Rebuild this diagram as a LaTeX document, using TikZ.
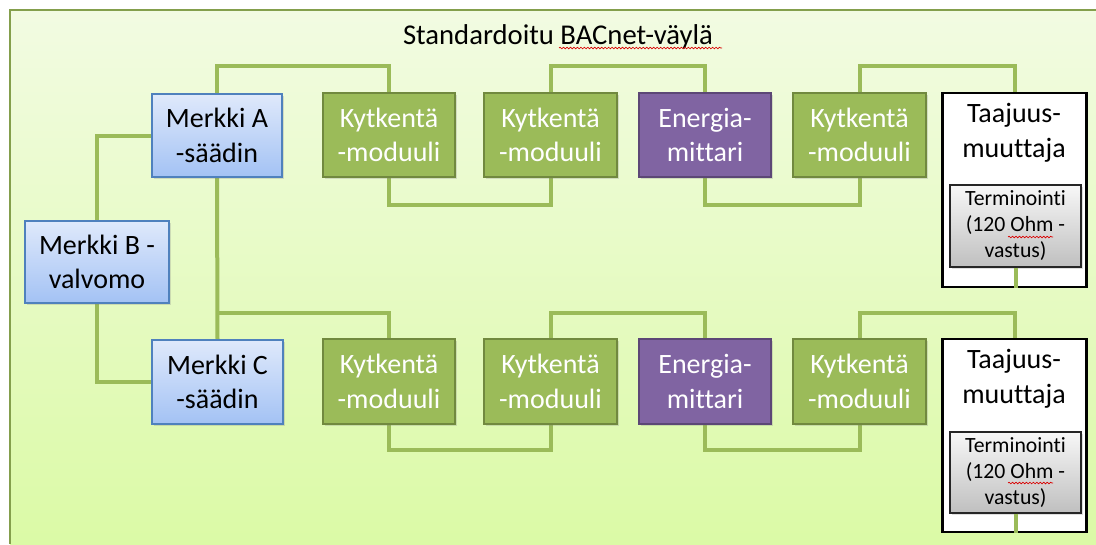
\documentclass[tikz,border=0pt]{standalone}
\usepackage{fontspec}
\setmainfont{Carlito}[Ligatures=NoCommon]
\usetikzlibrary{decorations.pathmorphing,shadows}
\pgfdeclarelayer{backdrop}
\pgfdeclarelayer{wires}
\pgfsetlayers{backdrop,wires,main}
\definecolor{busgreen}{HTML}{9BBB59}
\definecolor{busgreendark}{HTML}{71893F}
\definecolor{meterpurple}{HTML}{8064A2}
\definecolor{meterpurpledark}{HTML}{5C4776}
\definecolor{ctrlblue}{HTML}{4F81BD}
\definecolor{ctrltop}{HTML}{DFE9FB}
\definecolor{ctrlbottom}{HTML}{A3C2F4}
\definecolor{bgtop}{HTML}{F2FBE2}
\definecolor{bgbottom}{HTML}{DBFAA6}
\tikzset{
  x=0.75pt, y=-0.75pt,
  wh/.style 2 args={minimum width={#1*0.75pt}, minimum height={#2*0.75pt}},
  basebox/.style={rectangle, inner sep=0pt, align=center, font=\fontsize{21}{26}\selectfont,
    drop shadow={shadow xshift=1.2pt, shadow yshift=-1.2pt, opacity=0.25}},
  modbox/.style={basebox, fill=busgreen, draw=busgreendark, line width=1.6pt, text=white},
  meterbox/.style={basebox, fill=meterpurple, draw=meterpurpledark, line width=1.6pt, text=white},
  ctrlbox/.style={basebox, top color=ctrltop, bottom color=ctrlbottom,
    draw=ctrlblue, line width=0.9pt, text=black},
  drivebox/.style={rectangle, inner sep=0pt, fill=white, draw=black, line width=2.2pt},
  drivetext/.style={align=center, font=\fontsize{21}{26}\selectfont},
  termbox/.style={basebox, top color=gray!6, bottom color=gray!50, draw=black!85,
    line width=1.1pt, font=\fontsize{16.3}{19.5}\selectfont},
  bus/.style={draw=busgreen, line width=3pt, line join=miter},
  spell/.style={draw=red!85!black, line width=0.5pt,
    decorate, decoration={snake, amplitude=0.6pt, segment length=2.6pt}}
}
\begin{document}
\begin{tikzpicture}
% page and green backdrop
\useasboundingbox (0,0) rectangle (1096,544);
\begin{pgfonlayer}{backdrop}
\fill[white] (0,0) rectangle (1096,544);
\shade[top color=bgtop, bottom color=bgbottom] (10,10) rectangle (1096,544);
\draw[busgreen!85!black, line width=1.4pt] (10,544) -- (10,10) -- (1096,10);
\end{pgfonlayer}

% heights of the horizontal bus runs
\coordinate (toprun) at (0,66);
\coordinate (midrun) at (0,205);
\coordinate (lowtop) at (0,313);
\coordinate (lowbot) at (0,450);

% title
\node[font=\fontsize{21.5}{26}\selectfont, anchor=base] (title) at (558,44) {Standardoitu BACnet-väylä};

% nodes, top row
\node[ctrlbox, wh={130}{83}] (mA) at (217,135.5) {Merkki A\\-säädin};
\node[modbox, wh={132}{84}] (k1) at (389,135) {Kytkentä\\-moduuli};
\node[modbox, wh={133}{84}] (k2) at (550.5,135) {Kytkentä\\-moduuli};
\node[meterbox, wh={132}{84}] (e1) at (705,135) {Energia-\\mittari};
\node[modbox, wh={133}{84}] (k3) at (859.5,135) {Kytkentä\\-moduuli};
\node[drivebox, wh={144}{194}] (t1) at (1014.5,190) {};
\node[drivetext] (t1l) at (1014,133) {Taajuus-\\muuttaja};
\node[termbox, wh={131}{82}] (r1) at (1015.5,226) {Terminointi\\(120 Ohm -\\vastus)};

% node, left column
\node[ctrlbox, wh={144}{82}] (mB) at (97,262) {Merkki B -\\valvomo};

% nodes, bottom row
\node[ctrlbox, wh={131}{84}] (mC) at (217.5,382) {Merkki C\\-säädin};
\node[modbox, wh={132}{85}] (k4) at (389,381.5) {Kytkentä\\-moduuli};
\node[modbox, wh={133}{85}] (k5) at (550.5,381.5) {Kytkentä\\-moduuli};
\node[meterbox, wh={132}{85}] (e2) at (705,381.5) {Energia-\\mittari};
\node[modbox, wh={133}{85}] (k6) at (859.5,381.5) {Kytkentä\\-moduuli};
\node[drivebox, wh={144}{193}] (t2) at (1014.5,435.5) {};
\node[drivetext] (t2l) at (1014,379) {Taajuus-\\muuttaja};
\node[termbox, wh={131}{81}] (r2) at (1015.5,472.5) {Terminointi\\(120 Ohm -\\vastus)};

% bus wiring, under the boxes
\begin{pgfonlayer}{wires}
% controllers
\path[bus] (mA.west) -| (mB.north);
\path[bus] (mB.south) |- (mC.west);
\path[bus] (mA.south) -- (mC.north);
% upper segment
\path[bus] (mA.north) -- (mA.north |- toprun) -| (k1.north);
\path[bus] (k1.south) -- (k1.south |- midrun) -| (k2.south);
\path[bus] (k2.north) -- (k2.north |- toprun) -| (e1.north);
\path[bus] (e1.south) -- (e1.south |- midrun) -| (k3.south);
\path[bus] (k3.north) -- (k3.north |- toprun) -| (t1.north);
% lower segment
\path[bus] (mC.north |- lowtop) -| (k4.north);
\path[bus] (k4.south) -- (k4.south |- lowbot) -| (k5.south);
\path[bus] (k5.north) -- (k5.north |- lowtop) -| (e2.north);
\path[bus] (e2.south) -- (e2.south |- lowbot) -| (k6.south);
\path[bus] (k6.north) -- (k6.north |- lowtop) -| (t2.north);
\end{pgfonlayer}

% terminator stubs inside the drives, over the white fill
\path[bus] (r1.south) -- (r1.south |- t1.south);
\path[bus] (r2.south) -- (r2.south |- t2.south);

% spell-check marks
\draw[spell] (559,48) -- (722,48);
\draw[spell] (1008,237) -- (1053,237);
\draw[spell] (1008,483) -- (1053,483);
\end{tikzpicture}
\end{document}
